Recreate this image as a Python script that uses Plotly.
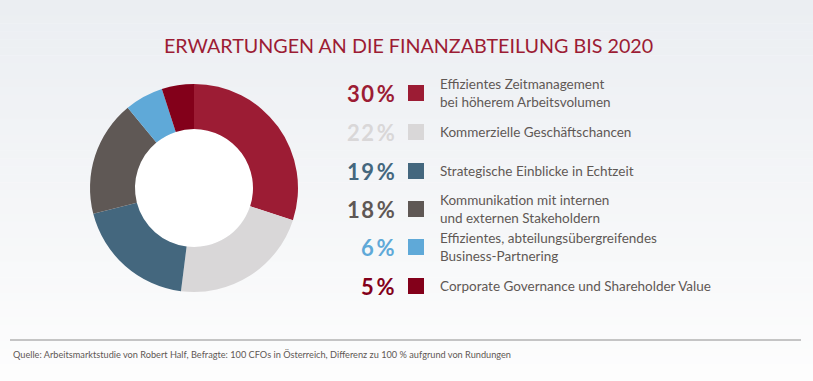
import plotly.graph_objects as go

categories = [
    "Effizientes Zeitmanagement<br>bei höherem Arbeitsvolumen",
    "Kommerzielle Geschäftschancen",
    "Strategische Einblicke in Echtzeit",
    "Kommunikation mit internen<br>und externen Stakeholdern",
    "Effizientes, abteilungsübergreifendes<br>Business-Partnering",
    "Corporate Governance und Shareholder Value",
]
values = [30, 22, 19, 18, 6, 5]
colors = ["#9c1c34", "#d9d7d8", "#44677e", "#5f5855", "#5fa9d8", "#83001a"]

W, H = 813, 381
cx, cy, R, r_in = 194, 188, 104, 59

fig = go.Figure()
fig.add_trace(go.Pie(
    values=values, labels=[c.replace("<br>", " ") for c in categories],
    marker=dict(colors=colors, line=dict(width=0)),
    hole=r_in / R, sort=False, direction="clockwise", rotation=0,
    textinfo="none", hoverinfo="label+percent", showlegend=False,
    domain=dict(x=[(cx - R) / W, (cx + R) / W], y=[(H - cy - R) / H, (H - cy + R) / H]),
))

shapes = []
# background gradient
n = 48
top = (235, 238, 242)
bot = (253, 253, 253)
for i in range(n):
    t = i / (n - 1)
    c = tuple(round(top[k] + (bot[k] - top[k]) * t) for k in range(3))
    shapes.append(dict(type="rect", xref="paper", yref="paper", layer="below",
                       x0=0, x1=1, y0=1 - (i + 1) / n, y1=1 - i / n + 0.001,
                       fillcolor="rgb(%d,%d,%d)" % c, line=dict(width=0)))
# white hole
shapes.append(dict(type="circle", xref="paper", yref="paper", layer="below",
                   x0=(cx - r_in) / W, x1=(cx + r_in) / W,
                   y0=(H - cy - r_in) / H, y1=(H - cy + r_in) / H,
                   fillcolor="white", line=dict(width=0)))
# footer rule
shapes.append(dict(type="line", xref="paper", yref="paper",
                   x0=10 / W, x1=801 / W, y0=(H - 340) / H, y1=(H - 340) / H,
                   line=dict(color="#8e8e8e", width=1)))

HS = "\u200a"
row_y = [93, 132, 171, 209, 247, 286]
annotations = []
for cat, v, col, y in zip(categories, values, colors, row_y):
    yp = (H - y) / H
    pct = HS.join(list(str(v))) + HS + HS + "%"
    annotations.append(dict(x=397 / W, y=yp, xref="paper", yref="paper", xanchor="right",
                            yanchor="middle", showarrow=False,
                            text="<b>%s</b>" % pct,
                            font=dict(family="Lato", size=22, color=col)))
    shapes.append(dict(type="rect", xref="paper", yref="paper",
                       x0=408 / W, x1=424 / W, y0=(H - y - 8) / H, y1=(H - y + 8) / H,
                       fillcolor=col, line=dict(width=0)))
    annotations.append(dict(x=438 / W, y=yp, xref="paper", yref="paper", xanchor="left",
                            yanchor="middle", align="left", showarrow=False, text=cat,
                            font=dict(family="Lato", size=13.5, color="#5f5855")))

annotations.append(dict(x=408 / W, y=(H - 45) / H, xref="paper", yref="paper",
                        xanchor="center", yanchor="middle", showarrow=False,
                        text="ERWARTUNGEN AN DIE FINANZABTEILUNG BIS 2020",
                        font=dict(family="Lato", size=19.7, color="#9c1c34")))
annotations.append(dict(x=11 / W, y=(H - 354) / H, xref="paper", yref="paper",
                        xanchor="left", yanchor="middle", showarrow=False,
                        text="Quelle: Arbeitsmarktstudie von Robert Half, Befragte: 100 CFOs in Österreich, Differenz zu 100 % aufgrund von Rundungen",
                        font=dict(family="Lato", size=9.2, color="#5f5855")))

fig.update_layout(width=W, height=H, margin=dict(l=0, r=0, t=0, b=0),
                  paper_bgcolor="white", plot_bgcolor="white",
                  shapes=shapes, annotations=annotations)
fig.write_html("out.html", config={"displayModeBar": False},
               post_script="document.body.style.margin='0';document.body.style.overflow='hidden';")
